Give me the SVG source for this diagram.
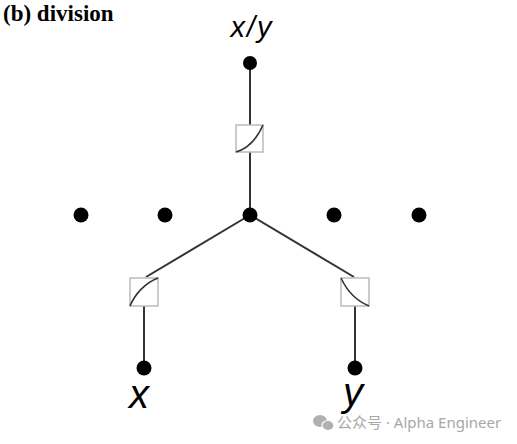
<svg xmlns="http://www.w3.org/2000/svg" width="517" height="444" viewBox="0 0 517 444">
<style>
.edge{stroke:#333;stroke-width:2;fill:none}
.dot{fill:#000}
.box{fill:#fff;stroke:#bbb;stroke-width:1.5}
.fn{stroke:#333;stroke-width:1.6;fill:none}
.lbl{font-family:"Liberation Sans",Arial,sans-serif;font-style:italic;fill:#000;text-anchor:middle}
.wm{font-family:"Noto Sans","Noto Sans CJK SC",sans-serif;fill:#a8a8a8;font-size:15px}
</style>
<rect width="517" height="444" fill="#fff"/>
<text x="3" y="21" font-family="Liberation Serif,'Times New Roman',serif" font-weight="bold" font-size="23">(b) division</text>
<g id="connectors">
<line class="edge" x1="250" y1="63" x2="250" y2="125"/>
<line class="edge" x1="250" y1="152" x2="250" y2="215"/>
<line class="edge" x1="250" y1="215" x2="146" y2="277"/>
<line class="edge" x1="250" y1="215" x2="354" y2="277"/>
<line class="edge" x1="144" y1="306" x2="144" y2="368"/>
<line class="edge" x1="355" y1="306" x2="355" y2="368"/>
</g>
<g id="out">
<circle class="dot" cx="250" cy="63" r="7"/>
<text class="lbl" x="252" y="37" font-size="29" letter-spacing="2">x/y</text>
</g>
<g id="exp">
<rect class="box" x="236" y="125" width="27" height="27"/>
<path class="fn" d="M236,152 C246,149 256,141 263,125"/>
</g>
<g id="n1"><circle class="dot" cx="81" cy="215" r="7.5"/></g>
<g id="n2"><circle class="dot" cx="165" cy="215" r="7.5"/></g>
<g id="sum"><circle class="dot" cx="250" cy="215" r="7.5"/></g>
<g id="n4"><circle class="dot" cx="334" cy="215" r="7.5"/></g>
<g id="n5"><circle class="dot" cx="419" cy="215" r="7.5"/></g>
<g id="log">
<rect class="box" x="130" y="278" width="28" height="28"/>
<path class="fn" d="M130,306 C135,294 145,283 158,278"/>
</g>
<g id="neglog">
<rect class="box" x="341" y="278" width="28" height="28"/>
<path class="fn" d="M341,278 C347,291 357,301 369,306"/>
</g>
<g id="x">
<circle class="dot" cx="144" cy="368" r="7.5"/>
<text class="lbl" x="139" y="408" font-size="40">x</text>
</g>
<g id="y">
<circle class="dot" cx="355" cy="368" r="7.5"/>
<text class="lbl" x="353" y="406" font-size="40">y</text>
</g>
<g id="watermark">
<ellipse cx="320" cy="421" rx="7" ry="6" fill="#b0b0b0"/>
<ellipse cx="328" cy="425.5" rx="6" ry="5" fill="#b0b0b0" stroke="#fff" stroke-width="1.2"/>
<text class="wm" x="337" y="428">公众号 · Alpha Engineer</text>
</g>
</svg>
